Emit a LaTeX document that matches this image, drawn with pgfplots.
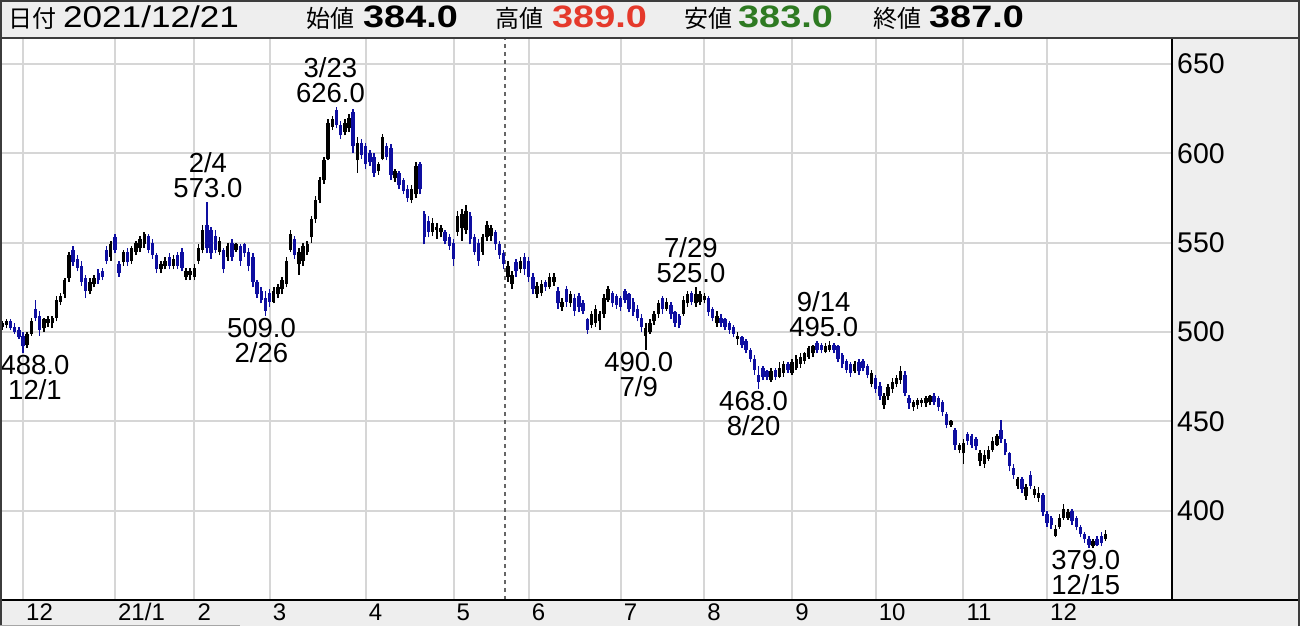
\documentclass[border=0pt]{standalone}
\usepackage{fontspec}
\setmainfont{Liberation Sans}
\newfontfamily\jp{Noto Sans CJK JP}
\newfontfamily\widefont[FakeStretch=1.17]{Liberation Sans}
\newfontfamily\widebold[FakeStretch=1.22]{Liberation Sans Bold}
\usepackage{pgfplots}
\usepackage{pgfplotstable}
\pgfplotsset{compat=1.18}
\usetikzlibrary{backgrounds}
\definecolor{hdrgray}{RGB}{238,238,238}
\definecolor{gridgray}{RGB}{214,214,214}
\definecolor{cblue}{RGB}{14,14,160}
\definecolor{vred}{RGB}{229,57,43}
\definecolor{vgreen}{RGB}{46,122,34}
\definecolor{framec}{RGB}{60,60,60}

\pgfplotstableread{
i o h l c
0 503 506 501 505
1 504 507 502 506
2 506 507 501 502
3 503 505 499 500
4 501 503 496 497
5 498 500 488 492
6 493 500 491 499
7 499 508 498 506
8 513 518 506 508
9 509 512 498 501
10 502 508 500 507
11 505 509 503 507
12 505 509 502 508
13 508 520 506 518
14 517 522 515 520
15 521 530 519 529
16 530 545 528 543
17 546 548 537 539
18 541 543 534 536
19 537 540 526 528
20 530 532 519 523
21 523 530 521 528
22 527 532 525 530
23 533 535 527 529
24 534 536 529 531
25 546 548 538 540
26 542 551 540 549
27 553 555 544 546
28 538 540 531 533
29 539 546 537 545
30 545 547 537 539
31 540 548 538 547
32 545 551 543 550
33 547 554 545 552
34 549 556 547 555
35 554 555 544 546
36 550 552 541 543
37 543 544 533 535
38 535 540 533 538
39 537 542 535 540
40 542 544 535 537
41 537 543 535 541
42 543 545 535 537
43 545 547 534 536
44 531 536 529 534
45 532 536 529 534
46 531 538 529 536
47 540 549 538 547
48 546 560 544 557
49 560 573 544 547
50 557 559 541 544
51 554 557 544 546
52 545 553 543 551
53 546 547 533 535
54 542 550 540 548
55 550 552 540 542
56 546 550 545 549
57 548 549 537 540
58 549 550 542 544
59 545 547 534 537
60 542 544 525 528
61 528 529 519 521
62 523 525 516 518
63 519 523 509 512
64 522 524 514 517
65 517 525 516 523
66 521 527 519 525
67 524 531 521 529
68 527 542 525 540
69 546 557 545 555
70 552 554 541 543
71 538 547 532 545
72 540 550 537 548
73 545 551 543 549
74 553 565 550 563
75 563 576 561 574
76 574 587 572 585
77 585 598 583 596
78 597 619 596 617
79 615 621 613 619
80 624 626 614 616
81 616 618 608 610
82 612 619 610 617
83 614 622 612 620
84 623 625 600 604
85 596 609 589 606
86 606 608 597 599
87 604 606 591 594
88 600 602 593 595
89 598 600 587 589
90 590 595 588 594
91 597 611 596 609
92 604 606 596 598
93 603 605 585 588
94 586 591 584 590
95 589 590 580 582
96 585 586 577 579
97 580 582 573 575
98 574 582 572 580
99 577 595 575 593
100 594 595 577 580
101 566 568 549 553
102 562 565 553 556
103 556 564 554 561
104 557 561 552 559
105 556 560 553 558
106 556 557 549 551
107 553 555 546 548
108 550 552 537 541
109 556 568 554 565
110 558 569 551 566
111 557 571 555 568
112 565 567 549 552
113 553 555 543 545
114 550 552 537 540
115 545 555 543 553
116 553 562 551 560
117 554 560 551 558
118 556 557 546 549
119 549 551 541 543
120 544 546 535 538
121 531 540 528 537
122 527 534 524 532
123 539 541 531 534
124 535 542 533 540
125 542 544 532 535
126 540 542 528 531
127 531 533 521 524
128 521 528 519 526
129 522 529 520 527
130 528 529 523 525
131 525 533 524 531
132 528 533 526 531
133 523 525 513 516
134 514 519 512 517
135 524 526 514 517
136 516 523 514 521
137 519 521 509 512
138 520 522 511 514
139 516 518 510 512
140 507 508 499 501
141 504 512 502 510
142 505 515 503 513
143 506 512 501 510
144 510 521 508 519
145 518 526 517 524
146 522 523 514 516
147 520 521 513 515
148 519 520 512 514
149 523 524 516 518
150 521 522 511 513
151 517 519 509 511
152 513 515 506 508
153 508 510 500 503
154 498 505 490 502
155 500 507 499 505
156 506 512 504 510
157 510 518 508 516
158 519 520 510 513
159 513 519 512 517
160 515 517 507 510
161 511 512 503 505
162 509 510 502 504
163 510 520 509 518
164 516 523 514 521
165 522 523 515 517
166 516 525 514 521
167 517 523 515 521
168 518 522 516 520
169 519 520 509 511
170 513 514 506 508
171 505 512 503 509
172 508 510 503 505
173 507 508 501 503
174 505 506 499 501
175 503 504 497 499
176 496 500 493 498
177 497 498 491 493
178 495 496 488 490
179 490 491 483 485
180 485 487 476 479
181 476 481 468 472
182 480 481 473 475
183 478 479 473 475
184 473 480 472 478
185 479 480 473 475
186 475 483 474 480
187 477 484 475 482
188 482 483 477 479
189 477 485 476 483
190 480 487 479 485
191 482 488 480 486
192 484 489 482 488
193 486 492 485 491
194 488 493 486 492
195 494 495 488 490
196 493 494 488 490
197 489 494 488 492
198 490 495 489 493
199 493 494 488 490
200 492 493 483 485
201 487 488 480 482
202 484 485 477 479
203 482 483 475 477
204 478 484 477 482
205 483 485 476 478
206 484 485 478 480
207 481 482 474 476
208 471 479 469 477
209 474 476 466 468
210 470 472 462 464
211 459 466 457 464
212 464 471 462 469
213 468 474 466 472
214 471 476 469 474
215 473 481 471 478
216 476 478 464 466
217 463 465 457 460
218 458 462 456 461
219 459 463 457 462
220 460 463 458 462
221 460 464 458 463
222 461 465 459 464
223 464 466 459 461
224 463 464 456 458
225 461 462 453 455
226 454 455 446 448
227 448 451 447 450
228 445 446 434 437
229 434 438 432 437
230 432 440 426 438
231 443 444 437 439
232 442 443 435 437
233 440 441 434 436
234 428 434 425 432
235 426 434 424 431
236 429 436 428 434
237 434 441 433 439
238 437 443 436 442
239 445 451 438 440
240 438 440 431 433
241 432 433 422 425
242 424 426 418 420
243 414 419 412 418
244 418 419 410 412
245 408 415 406 413
246 420 422 412 414
247 409 414 407 412
248 407 413 405 410
249 409 410 397 399
250 398 400 391 393
251 396 397 390 392
252 386 392 385 390
253 391 398 390 396
254 396 404 395 401
255 396 401 395 399
256 400 401 392 394
257 396 397 389 391
258 391 392 385 387
259 387 388 382 384
260 384 386 379 381
261 380 384 379 383
262 384 386 380 381
263 386 388 380 382
264 384 389 383 387
}\candles

\pgfplotsset{
  candle/.style 2 args={draw=none, mark=none,
    error bars/.cd, y dir=plus, y explicit, error mark=none,
    error bar style={line width=#1, line cap=butt, draw=#2}},
}
\tikzset{anno/.style={font=\fontsize{27.5}{25}\selectfont, align=center, inner sep=0pt, text=black}}

\begin{document}
\begin{tikzpicture}[x=1pt,y=1pt]
\begin{axis}[
  scale only axis, width=1172pt, height=561pt,
  xmin=-0.5, xmax=279.9, ymin=350, ymax=664,
  axis line style={draw=none},
  major tick length=0pt,
  xtick={5,27,46,64,87,108,126,148,168,189,209,230,250},
  xticklabels={12,21/1,2,3,4,5,6,7,8,9,10,11,12},
  ytick={400,450,500,550,600,650},
  yticklabel pos=right,
  grid=major,
  grid style={gridgray, line width=2pt},
  /pgf/number format/assume math mode=true,
  yticklabel style={anchor=west, inner sep=0pt, xshift=5pt, font=\fontsize{28.5}{30}\selectfont},
  xticklabel style={anchor=west, inner sep=0pt, xshift=3pt, yshift=-12pt, font=\fontsize{24}{24}\selectfont},
  axis background/.style={fill=white},
]
\coordinate (O) at (rel axis cs:0,0);
% dashed separator
\draw[dash pattern=on 4pt off 4pt, line width=1.2pt, black!60] (axis cs:120.3,350) -- (axis cs:120.3,664);
% up candles (black)
\addplot[candle={1.5pt}{black}] table[x=i,
  y expr={\thisrow{c}>=\thisrow{o} ? \thisrow{l} : nan},
  y error plus expr={\thisrow{h}-\thisrow{l}}] {\candles};
\addplot[candle={3.4pt}{black}] table[x=i,
  y expr={\thisrow{c}>=\thisrow{o} ? \thisrow{o} : nan},
  y error plus expr={max(\thisrow{c}-\thisrow{o},0.6)}] {\candles};
% down candles (blue)
\addplot[candle={1.5pt}{cblue}] table[x=i,
  y expr={\thisrow{c}<\thisrow{o} ? \thisrow{l} : nan},
  y error plus expr={\thisrow{h}-\thisrow{l}}] {\candles};
\addplot[candle={3.4pt}{cblue}] table[x=i,
  y expr={\thisrow{c}<\thisrow{o} ? \thisrow{c} : nan},
  y error plus expr={\thisrow{o}-\thisrow{c}}] {\candles};
% annotations of highs and lows
\node[anno, anchor=south, xshift=-6pt, yshift=4pt] at (axis cs:80,626) {3/23\\626.0};
\node[anno, anchor=south, xshift=1pt, yshift=4pt] at (axis cs:49,573) {2/4\\573.0};
\node[anno, anchor=south, xshift=-5pt, yshift=4pt] at (axis cs:166,525) {7/29\\525.0};
\node[anno, anchor=south, xshift=-6pt, yshift=4pt] at (axis cs:198,495) {9/14\\495.0};
\node[anno, anchor=north, xshift=-4pt, yshift=-2pt] at (axis cs:63,509) {509.0\\2/26};
\node[anno, anchor=north, xshift=-7pt, yshift=-2pt] at (axis cs:154,490) {490.0\\7/9};
\node[anno, anchor=north, xshift=-5pt, yshift=-2pt] at (axis cs:181,468) {468.0\\8/20};
\node[anno, anchor=north, xshift=-3pt, yshift=-2pt] at (axis cs:260,379) {379.0\\12/15};
\node[anno, anchor=north, xshift=12pt, yshift=-2pt] at (axis cs:5,488) {488.0\\12/1};
\end{axis}
\begin{scope}[shift={(O)}, yshift=-26pt]
% backgrounds behind the axis
\begin{pgfonlayer}{background}
\fill[white] (0,0) rectangle (1300,626);
\fill[hdrgray] (0,0) rectangle (1300,26);
\fill[hdrgray] (1172,26) rectangle (1300,587);
\fill[hdrgray] (0,587) rectangle (1300,626);
\end{pgfonlayer}
% frame and axis lines
\draw[line width=2.5pt, black] (0,26) -- (1300,26);
\draw[line width=2.5pt, black] (1172,26) -- (1172,587);
\draw[line width=2pt, framec] (0,587.5) -- (1300,587.5);
\draw[line width=2pt, framec] (1,0) -- (1,626);
\draw[line width=2pt, framec] (1299,0) -- (1299,626);
\draw[line width=2pt, framec] (0,625) -- (1300,625);
\draw[line width=1pt, black!35] (0,0.5) -- (240,0.5);
% header
\node[anchor=base west, inner sep=0pt] at (8,598) {\jp\fontsize{24}{24}\selectfont 日付};
\node[anchor=base west, inner sep=0pt] at (63,598) {\widefont\fontsize{30}{30}\selectfont 2021/12/21};
\node[anchor=base west, inner sep=0pt] at (306,598) {\jp\fontsize{24}{24}\selectfont 始値};
\node[anchor=base west, inner sep=0pt] at (363,598) {\widebold\fontsize{31}{31}\selectfont 384.0};
\node[anchor=base west, inner sep=0pt] at (495,598) {\jp\fontsize{24}{24}\selectfont 高値};
\node[anchor=base west, inner sep=0pt, text=vred] at (552,598) {\widebold\fontsize{31}{31}\selectfont 389.0};
\node[anchor=base west, inner sep=0pt] at (684,598) {\jp\fontsize{24}{24}\selectfont 安値};
\node[anchor=base west, inner sep=0pt, text=vgreen] at (738,598) {\widebold\fontsize{31}{31}\selectfont 383.0};
\node[anchor=base west, inner sep=0pt] at (873,598) {\jp\fontsize{24}{24}\selectfont 終値};
\node[anchor=base west, inner sep=0pt] at (929,598) {\widebold\fontsize{31}{31}\selectfont 387.0};
\end{scope}
\pgfresetboundingbox
\path[use as bounding box, shift={(O)}, yshift=-26pt] (0,0) rectangle (1300,626);
\end{tikzpicture}
\end{document}
